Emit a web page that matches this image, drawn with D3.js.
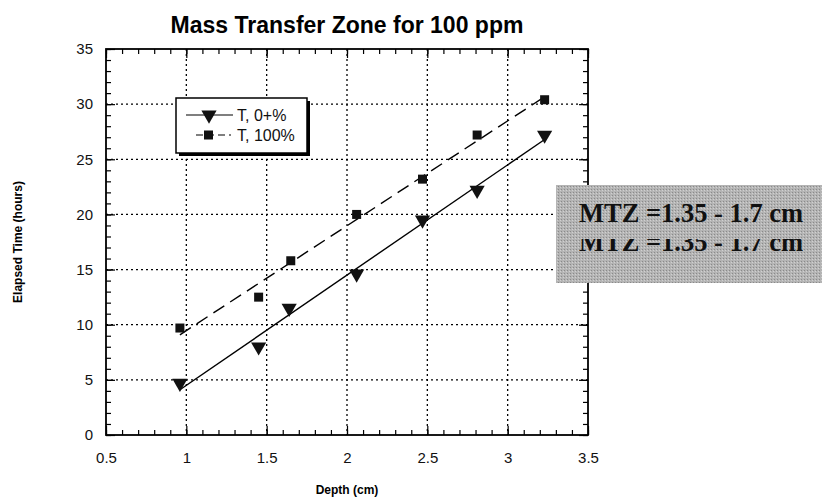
<!DOCTYPE html>
<html>
<head>
<meta charset="utf-8">
<script src="https://cdn.jsdelivr.net/npm/d3@7"></script>
<style>
  body { margin: 0; background: #fff; }
  text { font-family: "Liberation Sans", Arial, sans-serif; }
</style>
</head>
<body>
<div id="canvas"></div>
<script>
// values
var depth0 = [0.96, 1.45, 1.64, 2.06, 2.47, 2.81, 3.23];
var time0 = [4.7, 8.0, 11.5, 14.6, 19.5, 22.2, 27.2];
var depth100 = [0.96, 1.45, 1.65, 2.06, 2.47, 2.81, 3.23];
var time100 = [9.7, 12.5, 15.8, 20.0, 23.2, 27.2, 30.4];
var xTicks = [0.5, 1, 1.5, 2, 2.5, 3, 3.5];
var yTicks = [0, 5, 10, 15, 20, 25, 30, 35];
var legendLabels = ['T, 0+%', 'T, 100%'];
var noteText = 'MTZ =1.35 - 1.7 cm';

var W = 822, H = 498;
var pLeft = 106, pRight = 588, pTop = 49, pBottom = 435;

var svg = d3.select('#canvas').append('svg')
  .attr('width', W).attr('height', H);

var x = d3.scaleLinear().domain([0.5, 3.5]).range([pLeft, pRight]);
var y = d3.scaleLinear().domain([0, 35]).range([pBottom, pTop]);

// grid
var grid = svg.append('g').attr('stroke', '#000').attr('stroke-width', 1.3)
  .attr('stroke-dasharray', '2,3');
grid.selectAll('.gx').data(xTicks.slice(1, -1)).enter().append('line')
  .attr('x1', x).attr('x2', x).attr('y1', pTop).attr('y2', pBottom);
grid.selectAll('.gy').data(yTicks.slice(1, -1)).enter().append('line')
  .attr('y1', y).attr('y2', y).attr('x1', pLeft).attr('x2', pRight);

// minor + major ticks on all four sides, pointing in
var xMinor = d3.range(5, 36).map(function (d) { return d / 10; });
var yMinor = d3.range(0, 36);
function addTicks (axis, scale, ticks, size, pos) {
  svg.append('g').attr('transform', pos)
    .call(axis(scale).tickValues(ticks).tickSize(size).tickFormat(''))
    .call(function (g) { g.select('.domain').remove(); g.selectAll('line').attr('stroke-width', 1.2); });
}
addTicks(d3.axisTop, x, xMinor, 5, 'translate(0,' + pBottom + ')');
addTicks(d3.axisTop, x, xTicks, 9, 'translate(0,' + pBottom + ')');
addTicks(d3.axisBottom, x, xMinor, 5, 'translate(0,' + pTop + ')');
addTicks(d3.axisBottom, x, xTicks, 9, 'translate(0,' + pTop + ')');
addTicks(d3.axisRight, y, yMinor, 5, 'translate(' + pLeft + ',0)');
addTicks(d3.axisRight, y, yTicks, 9, 'translate(' + pLeft + ',0)');
addTicks(d3.axisLeft, y, yMinor, 5, 'translate(' + pRight + ',0)');
addTicks(d3.axisLeft, y, yTicks, 9, 'translate(' + pRight + ',0)');

// tick labels
function styleLabels (g) {
  g.select('.domain').remove();
  g.selectAll('text').attr('font-size', 15).attr('fill', '#111')
    .style('font-family', '"Liberation Sans", Arial, sans-serif');
}
svg.append('g').attr('transform', 'translate(0,' + pBottom + ')')
  .call(d3.axisBottom(x).tickValues(xTicks).tickSize(0).tickPadding(17).tickFormat(String))
  .call(styleLabels);
svg.append('g').attr('transform', 'translate(' + pLeft + ',0)')
  .call(d3.axisLeft(y).tickValues(yTicks).tickSize(0).tickPadding(13).tickFormat(String))
  .call(styleLabels);

// frame
svg.append('rect').attr('x', pLeft).attr('y', pTop)
  .attr('width', pRight - pLeft).attr('height', pBottom - pTop)
  .attr('fill', 'none').attr('stroke', '#000').attr('stroke-width', 1.8);

// least squares fit lines
function fit (xs, ys) {
  var mx = d3.mean(xs), my = d3.mean(ys);
  var sxy = d3.sum(xs, function (d, i) { return (d - mx) * (ys[i] - my); });
  var sxx = d3.sum(xs, function (d) { return (d - mx) * (d - mx); });
  var b = sxy / sxx, a = my - b * mx;
  var x0 = d3.min(xs), x1 = d3.max(xs);
  return [[x0, a + b * x0], [x1, a + b * x1]];
}
var line = d3.line().x(function (d) { return x(d[0]); }).y(function (d) { return y(d[1]); });
svg.append('path').attr('d', line(fit(depth0, time0)))
  .attr('fill', 'none').attr('stroke', '#000').attr('stroke-width', 1.4);
svg.append('path').attr('d', line(fit(depth100, time100)))
  .attr('fill', 'none').attr('stroke', '#000').attr('stroke-width', 1.4)
  .attr('stroke-dasharray', '13,7');

// markers
var tri = d3.symbol().type(d3.symbolTriangle).size(100);
svg.append('g').selectAll('path').data(depth0).enter().append('path')
  .attr('d', tri)
  .attr('transform', function (d, i) { return 'translate(' + x(d) + ',' + y(time0[i]) + ') rotate(180)'; })
  .attr('fill', '#111');
svg.append('g').selectAll('rect').data(depth100).enter().append('rect')
  .attr('x', function (d) { return x(d) - 4.5; })
  .attr('y', function (d, i) { return y(time100[i]) - 4.5; })
  .attr('width', 9).attr('height', 9).attr('fill', '#111');

// legend
var lg = svg.append('g').attr('transform', 'translate(176,98)');
lg.append('rect').attr('x', 3).attr('y', 3).attr('width', 131).attr('height', 55).attr('fill', '#000');
lg.append('rect').attr('width', 131).attr('height', 55).attr('fill', '#fff')
  .attr('stroke', '#000').attr('stroke-width', 1.5);
lg.append('line').attr('x1', 10).attr('x2', 57).attr('y1', 17).attr('y2', 17)
  .attr('stroke', '#000').attr('stroke-width', 1.2);
lg.append('path').attr('d', tri).attr('transform', 'translate(33,17) rotate(180)').attr('fill', '#111');
lg.append('line').attr('x1', 20).attr('x2', 55).attr('y1', 37).attr('y2', 37)
  .attr('stroke', '#000').attr('stroke-width', 1.2).attr('stroke-dasharray', '7,4');
lg.append('rect').attr('x', 28).attr('y', 32.5).attr('width', 9).attr('height', 9).attr('fill', '#111');
lg.selectAll('.lt').data(legendLabels).enter().append('text')
  .attr('x', 61).attr('y', function (d, i) { return 23 + i * 20; })
  .attr('font-size', 16).attr('fill', '#111').text(function (d) { return d; });

// title and axis labels
svg.append('text').attr('x', (pLeft + pRight) / 2).attr('y', 33)
  .attr('text-anchor', 'middle').attr('font-size', 23).attr('font-weight', 'bold')
  .text('Mass Transfer Zone for 100 ppm');
svg.append('text').attr('x', (pLeft + pRight) / 2).attr('y', 494)
  .attr('text-anchor', 'middle').attr('font-size', 12).attr('font-weight', 'bold')
  .text('Depth (cm)');
svg.append('text').attr('transform', 'translate(22,' + (pTop + pBottom) / 2 + ') rotate(-90)')
  .attr('text-anchor', 'middle').attr('font-size', 12).attr('font-weight', 'bold')
  .text('Elapsed Time (hours)');

// annotation box
var defs = svg.append('defs');
var pat = defs.append('pattern').attr('id', 'speckle').attr('width', 3).attr('height', 3)
  .attr('patternUnits', 'userSpaceOnUse');
pat.append('rect').attr('width', 3).attr('height', 3).attr('fill', '#b4b4b4');
pat.append('rect').attr('width', 1).attr('height', 1).attr('fill', '#8a8a8a');
pat.append('rect').attr('x', 2).attr('y', 1).attr('width', 1).attr('height', 1).attr('fill', '#d0d0d0');
defs.append('clipPath').attr('id', 'cut2').append('rect')
  .attr('x', 540).attr('y', 239).attr('width', 282).attr('height', 40);

svg.append('rect').attr('x', 556).attr('y', 185).attr('width', 266).attr('height', 98)
  .attr('fill', 'url(#speckle)');
svg.append('text').attr('x', 579).attr('y', 222)
  .attr('font-size', 26.5).attr('font-weight', 'bold').attr('fill', '#111')
  .style('font-family', '"Liberation Serif", "Times New Roman", serif')
  .text(noteText);
svg.append('text').attr('x', 579).attr('y', 251)
  .attr('clip-path', 'url(#cut2)')
  .attr('font-size', 26.5).attr('font-weight', 'bold').attr('fill', '#111')
  .style('font-family', '"Liberation Serif", "Times New Roman", serif')
  .text(noteText);
</script>
</body>
</html>
